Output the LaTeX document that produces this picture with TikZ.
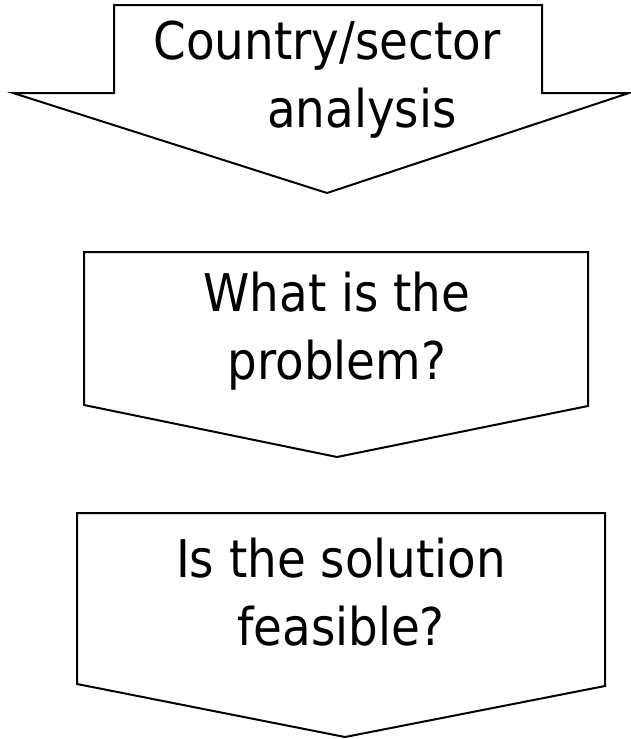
\documentclass[tikz,border=0pt]{standalone}
\usepackage{fontspec}
\setmainfont{DejaVu Sans Condensed}
\usetikzlibrary{positioning}
\tikzset{
  outline/.style={draw, line width=2pt, line join=miter, fill=white},
  boxtext/.style={align=center, inner sep=0pt, font=\fontsize{52}{68}\selectfont},
}
\begin{document}
\begin{tikzpicture}[x=1pt, y=-1pt]
\useasboundingbox (0,0) rectangle (630,739);

% top block arrow
\draw[outline] (114,5) -- (542,5) -- (542,93) -- (629,93) -- (327,193)
  -- (13,93) -- (114,93) -- cycle;
\node[boxtext] (country) at (327,80) {Country/sector\\\hspace*{70pt}analysis};

% second step
\draw[outline] (84,252) -- (588,252) -- (588,406) -- (337,457)
  -- (84,405) -- cycle;
\node[boxtext] (problem) at (337,331) {What is the\\problem?};

% third step
\draw[outline] (77,513) -- (605,513) -- (605,686) -- (345,737)
  -- (77,684) -- cycle;
\node[boxtext] (feasible) at (341,592) {Is the solution\\feasible?};

\end{tikzpicture}
\end{document}
